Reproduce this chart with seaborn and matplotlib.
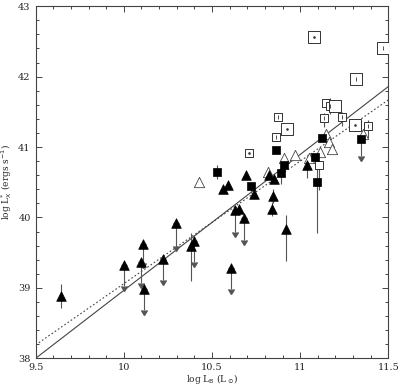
import numpy as np
import pandas as pd
import matplotlib
matplotlib.use("Agg")
import matplotlib.pyplot as plt
from matplotlib.ticker import MultipleLocator
import seaborn as sns

# filled triangles: log LB, log LX, lower err, upper err, upper-limit flag
ft_x = [9.643, 10.00, 10.109, 10.10, 10.117, 10.22, 10.297, 10.379, 10.397, 10.607,
        10.63, 10.654, 10.68, 10.737, 10.843, 10.838, 10.919, 10.563, 10.588, 10.692,
        10.824, 10.853, 11.04]
ft_y = [38.89, 39.33, 39.62, 39.37, 38.99, 39.41, 39.92, 39.59, 39.67, 39.29,
        40.11, 40.12, 39.99, 40.33, 40.30, 40.12, 39.83, 40.41, 40.46, 40.60,
        40.60, 40.54, 40.74]
ft_lo = [0.17, 0.30, 0.27, 0.30, 0.30, 0.30, 0.32, 0.49, 0.30, 0.31,
         0.31, 0.0, 0.31, 0.06, 0.10, 0.10, 0.45, 0.0, 0.0, 0.0,
         0.0, 0.0, 0.18]
ft_hi = [0.16, 0.0, 0.0, 0.0, 0.0, 0.0, 0.0, 0.19, 0.0, 0.0,
         0.0, 0.0, 0.0, 0.0, 0.10, 0.10, 0.21, 0.0, 0.0, 0.0,
         0.0, 0.0, 0.0]
ft_ul = [False, True, True, True, True, True, True, False, True, True,
         True, False, True, False, False, False, False, False, False, False,
         False, False, False]

# open triangles
ot_x = [10.426, 10.817, 10.909, 10.97, 11.05, 11.112, 11.144, 11.164, 11.178, 11.357]
ot_y = [40.50, 40.65, 40.85, 40.89, 40.84, 40.93, 41.19, 41.07, 40.97, 41.19]

# filled squares
fs_x = [10.528, 10.72, 10.86, 10.89, 10.91, 11.083, 11.093, 11.125, 11.344]
fs_y = [40.64, 40.45, 40.96, 40.63, 40.75, 40.86, 40.50, 41.13, 41.11]
fs_lo = [0.10, 0.10, 0.0, 0.15, 0.0, 0.0, 0.72, 0.0, 0.24]
fs_hi = [0.10, 0.0, 0.0, 0.0, 0.0, 0.0, 0.20, 0.0, 0.0]
fs_ul = [False, False, False, False, False, False, False, False, True]

# open squares (size class, inner symbol)
os_x = [10.711, 10.875, 10.86, 10.928, 11.08, 11.467, 11.316, 11.149, 11.17,
        11.197, 11.134, 11.236, 11.313, 11.382, 11.108]
os_y = [40.92, 41.43, 41.14, 41.25, 42.56, 42.40, 41.96, 41.63, 41.59,
        41.58, 41.41, 41.42, 41.31, 41.30, 40.75]
os_big = [False, False, False, True, True, True, True, False, False,
          True, False, False, True, False, False]
os_inner = ["dot", "bar", "bar", "dot", "dot", "bar", "bar", "none", "bar",
            "none", "bar", "bar", "dot", "bar", "none"]
os_lo = [0.0, 0.0, 0.0, 0.0, 0.0, 0.0, 0.0, 0.0, 0.12, 0.0, 0.12, 0.12, 0.0, 0.17, 0.36]
os_hi = [0.0, 0.0, 0.0, 0.0, 0.0, 0.0, 0.0, 0.0, 0.10, 0.0, 0.08, 0.08, 0.0, 0.08, 0.0]

# fitted relations (intercept at log LB = 9.5, slope)
fit_solid = (38.0, 1.93)
fit_dotted = (38.19, 1.74)

sns.set_style("ticks")
plt.rcParams["font.family"] = ["DejaVu Serif"]

fig = plt.figure(figsize=(4.0, 3.87), dpi=100)
ax = fig.add_axes([0.089, 0.074, 0.882, 0.910])

ebc = "#555555"
# error bars / upper-limit arrows
for xs, ys, lo, hi, ul in [(ft_x, ft_y, ft_lo, ft_hi, ft_ul), (fs_x, fs_y, fs_lo, fs_hi, fs_ul)]:
    xs, ys, lo, hi, ul = map(np.array, (xs, ys, lo, hi, ul))
    m = ul
    eb = ax.errorbar(xs[m], ys[m], yerr=lo[m], uplims=True, fmt="none", ecolor=ebc,
                     elinewidth=0.8, capsize=2.2, zorder=2)
    for cl in eb[1]:
        cl.set_markerfacecolor(ebc)
        cl.set_markeredgecolor(ebc)
        cl.set_color(ebc)
    m = (~ul) & ((lo > 0) | (hi > 0))
    ax.errorbar(xs[m], ys[m], yerr=[lo[m], hi[m]], fmt="none", ecolor=ebc,
                elinewidth=0.8, capsize=0, zorder=2)
ox, oy, olo, ohi = map(np.array, (os_x, os_y, os_lo, os_hi))
m = (olo > 0) | (ohi > 0)
ax.errorbar(ox[m], oy[m], yerr=[olo[m], ohi[m]], fmt="none", ecolor=ebc,
            elinewidth=0.8, capsize=0, zorder=2)

# fit lines
xl = np.array([9.5, 11.5])
ax.plot(xl, fit_solid[0] + fit_solid[1] * (xl - 9.5), color="#444444", lw=0.8, zorder=1)
ax.plot(xl, fit_dotted[0] + fit_dotted[1] * (xl - 9.5), color="#444444", lw=0.8,
        ls=(0, (1.5, 2)), zorder=1)

sns.scatterplot(x=ft_x, y=ft_y, marker="^", s=48, color="black", edgecolor="black",
                linewidth=0.5, ax=ax, zorder=4)
sns.scatterplot(x=ot_x, y=ot_y, marker="^", s=55, facecolor="white", edgecolor="#444444",
                linewidth=0.6, ax=ax, zorder=3)
sns.scatterplot(x=fs_x, y=fs_y, marker="s", s=35, color="black", edgecolor="black",
                linewidth=0.5, ax=ax, zorder=4)

osdf = pd.DataFrame({"x": os_x, "y": os_y, "big": os_big, "inner": os_inner})
for big, size in [(False, 28), (True, 85)]:
    d = osdf[osdf["big"] == big]
    sns.scatterplot(data=d, x="x", y="y", marker="s", s=size, facecolor="white",
                    edgecolor="#333333", linewidth=0.7, ax=ax, zorder=3)
d = osdf[osdf["inner"] == "dot"]
ax.scatter(d["x"], d["y"], marker=".", s=3, color="#333333", zorder=5)
d = osdf[osdf["inner"] == "bar"]
ax.scatter(d["x"], d["y"], marker="|", s=12, color="#333333", linewidth=0.6, zorder=5)

ax.set_xlim(9.5, 11.5)
ax.set_ylim(38, 43)
ax.set_xticks([9.5, 10, 10.5, 11, 11.5])
ax.set_xticklabels(["9.5", "10", "10.5", "11", "11.5"])
ax.set_yticks([38, 39, 40, 41, 42, 43])
ax.xaxis.set_minor_locator(MultipleLocator(0.1))
ax.yaxis.set_minor_locator(MultipleLocator(0.2))
ax.tick_params(which="both", direction="in", top=True, right=True, labelsize=7,
               width=0.7, color="#444444")
ax.tick_params(which="major", length=4.5)
ax.tick_params(which="minor", length=2.5)
for sp in ax.spines.values():
    sp.set_linewidth(0.8)
    sp.set_color("#444444")

ax.set_xlabel(r"log L$_{\rm B}$ (L$_\odot$)", fontsize=6.5)
ax.set_ylabel(r"log L$_{\rm X}^{*}$ (ergs s$^{-1}$)", fontsize=6.5)
ax.xaxis.set_label_coords(0.5, -0.04)
ax.yaxis.set_label_coords(-0.062, 0.5)

fig.savefig("out.png", dpi=100)
